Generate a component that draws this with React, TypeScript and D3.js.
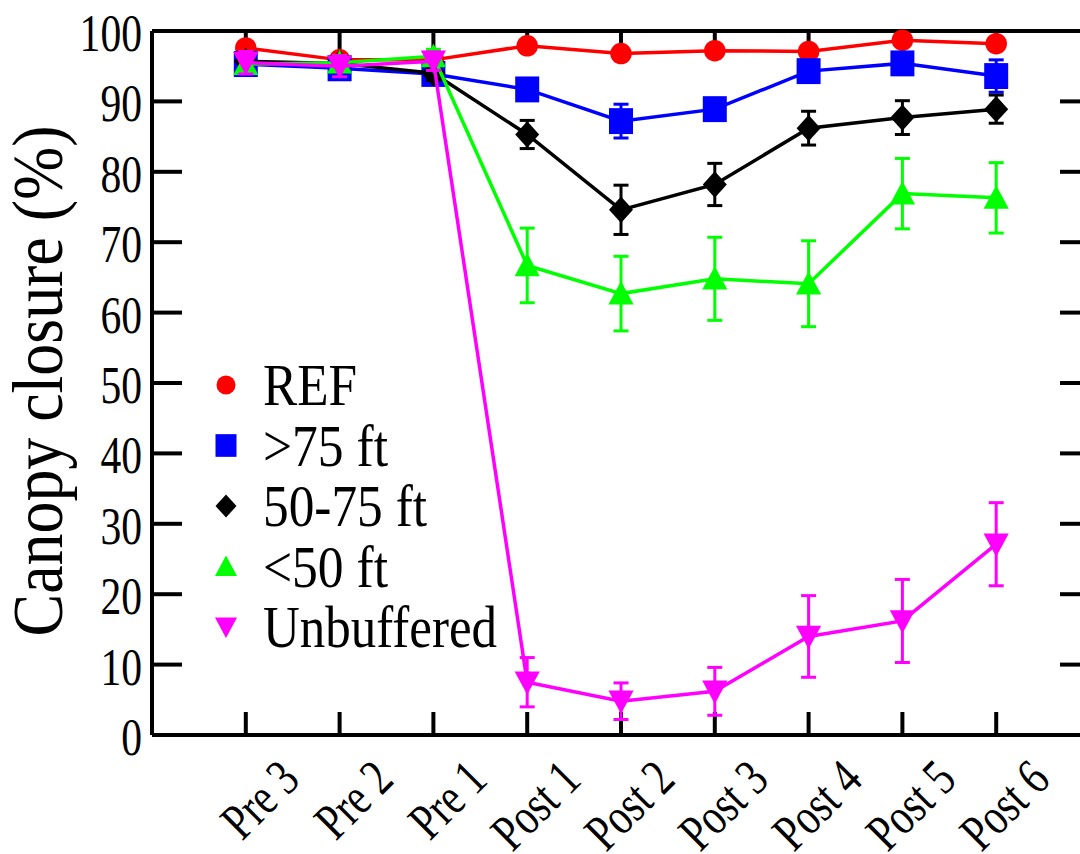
import React from "react";
import * as d3 from "d3";

const categories = ["Pre 3", "Pre 2", "Pre 1", "Post 1", "Post 2", "Post 3", "Post 4", "Post 5", "Post 6"];

const refMean = [97.6, 95.9, 95.9, 97.9, 96.8, 97.2, 97.1, 98.7, 98.2];
const refErr = [0.5, 0.5, 0.5, 0.6, 0.6, 0.6, 0.6, 0.6, 0.6];

const gt75Mean = [95.3, 94.7, 93.9, 91.7, 87.2, 88.9, 94.3, 95.4, 93.6];
const gt75Err = [1.0, 1.0, 1.0, 1.3, 2.4, 1.3, 1.2, 1.0, 2.3];

const mid50to75Mean = [95.7, 95.4, 94.0, 85.3, 74.6, 78.2, 86.2, 87.7, 88.9];
const mid50to75Err = [1.0, 1.0, 1.0, 2.0, 3.5, 3.0, 2.4, 2.4, 2.0];

const lt50Mean = [95.3, 95.5, 96.4, 66.7, 62.7, 64.8, 64.1, 76.9, 76.3];
const lt50Err = [1.0, 1.0, 1.0, 5.3, 5.3, 5.9, 6.1, 5.0, 5.0];

const unbufMean = [95.5, 95.0, 95.7, 7.5, 4.8, 6.2, 14.0, 16.2, 27.1];
const unbufErr = [1.6, 1.5, 1.3, 3.5, 2.6, 3.4, 5.8, 5.9, 5.9];

const yTicks = [0, 10, 20, 30, 40, 50, 60, 70, 80, 90, 100];

const seriesNames = ["REF", ">75 ft", "50-75 ft", "<50 ft", "Unbuffered"];
const seriesColors = ["#ff0000", "#0000ff", "#000000", "#00ff00", "#ff00ff"];
const seriesShapes = ["circle", "square", "diamond", "triangleUp", "triangleDown"];

const FONT = "Liberation Serif";

function markerPath(shape: string, size: number): string {
  const h = size / 2;
  switch (shape) {
    case "square":
      return `M${-h},${-h * 1.08}H${h}V${h * 1.08}H${-h}Z`;
    case "diamond":
      return `M0,${-h * 1.1}L${h},0L0,${h * 1.1}L${-h},0Z`;
    case "triangleUp":
      return `M0,${-h * 1.05}L${h * 1.05},${h * 0.9}L${-h * 1.05},${h * 0.9}Z`;
    case "triangleDown":
      return `M0,${h * 1.05}L${h * 1.05},${-h * 0.9}L${-h * 1.05},${-h * 0.9}Z`;
    default:
      return d3.symbol(d3.symbolCircle, Math.PI * h * h)() as string;
  }
}

export default function App() {
  const W = 1080;
  const H = 854;
  const left = 152;
  const right = 1090;
  const top = 31;
  const bottom = 735;

  const x = d3.scaleLinear().domain([-1, categories.length]).range([left, right]);
  const y = d3.scaleLinear().domain([0, 100]).range([bottom, top]);

  const means = [refMean, gt75Mean, mid50to75Mean, lt50Mean, unbufMean];
  const errs = [refErr, gt75Err, mid50to75Err, lt50Err, unbufErr];

  const line = d3
    .line<number>()
    .x((_, i) => x(i))
    .y((d) => y(d));

  const legendY = d3.scaleLinear().domain([0, 4]).range([385, 627]);
  const legendLen = [94, 125, 164, 125, 234];
  const txtStyle = { fontFamily: FONT };

  return (
    <svg
      width={W}
      height={H}
      style={{ position: "absolute", left: 0, top: 0, background: "#fff" }}
    >
      <rect x={0} y={0} width={W} height={H} fill="#fff" />
      {/* frame */}
      <g stroke="#000" strokeWidth={4} fill="none">
        <line x1={left} x2={right} y1={top} y2={top} />
        <line x1={left} x2={right} y1={bottom} y2={bottom} />
        <line x1={left} x2={left} y1={top} y2={bottom} />
        <line x1={right} x2={right} y1={top} y2={bottom} />
      </g>
      {/* y ticks */}
      <g stroke="#000" strokeWidth={4}>
        {yTicks.map((t) => (
          <g key={t}>
            <line x1={left} x2={left + 30} y1={y(t)} y2={y(t)} />
            <line x1={right - 30} x2={right} y1={y(t)} y2={y(t)} />
          </g>
        ))}
      </g>
      {/* x ticks */}
      <g stroke="#000" strokeWidth={4}>
        {categories.map((c, i) => (
          <g key={c}>
            <line x1={x(i)} x2={x(i)} y1={bottom} y2={bottom - 23} />
            <line x1={x(i)} x2={x(i)} y1={top} y2={top + 23} />
          </g>
        ))}
      </g>
      {/* y tick labels */}
      {yTicks.map((t) => (
        <text
          key={t}
          transform={`translate(142,${y(t) + 20}) scale(0.8,1)`}
          textAnchor="end"
          fontSize={52}
          fill="#000"
          style={txtStyle}
        >
          {t}
        </text>
      ))}
      {/* x tick labels */}
      {categories.map((c, i) => (
        <text
          key={c}
          transform={`translate(${x(i) + 56},${782}) rotate(-45) scale(0.78,1)`}
          textAnchor="end"
          fontSize={52}
          fill="#000"
          style={txtStyle}
        >
          {c}
        </text>
      ))}
      {/* y title */}
      <text
        transform={`translate(62,381) rotate(-90) scale(0.9,1)`}
        textAnchor="middle"
        fontSize={71}
        fill="#000"
        style={txtStyle}
      >
        Canopy closure (%)
      </text>
      {/* series */}
      {means.map((m, s) => (
        <g key={s}>
          <path d={line(m) as string} fill="none" stroke={seriesColors[s]} strokeWidth={3.5} />
          {m.map((v, i) => (
            <g key={i} stroke={seriesColors[s]} strokeWidth={3}>
              <line x1={x(i)} x2={x(i)} y1={y(v - errs[s][i])} y2={y(v + errs[s][i])} />
              <line x1={x(i) - 7.5} x2={x(i) + 7.5} y1={y(v - errs[s][i])} y2={y(v - errs[s][i])} />
              <line x1={x(i) - 7.5} x2={x(i) + 7.5} y1={y(v + errs[s][i])} y2={y(v + errs[s][i])} />
            </g>
          ))}
          {m.map((v, i) => (
            <path
              key={"m" + i}
              transform={`translate(${x(i)},${y(v)})`}
              d={markerPath(seriesShapes[s], s === 0 ? 21.5 : 24)}
              fill={seriesColors[s]}
            />
          ))}
        </g>
      ))}
      {/* legend */}
      {seriesNames.map((n, s) => (
        <g key={n}>
          <path
            transform={`translate(226,${legendY(s)})`}
            d={markerPath(seriesShapes[s], s === 0 ? 19 : 21)}
            fill={seriesColors[s]}
          />
          <text
            x={263}
            y={legendY(s) + 20}
            fontSize={60}
            textLength={legendLen[s]}
            lengthAdjust="spacingAndGlyphs"
            fill="#000"
            style={txtStyle}
          >
            {n}
          </text>
        </g>
      ))}
    </svg>
  );
}
